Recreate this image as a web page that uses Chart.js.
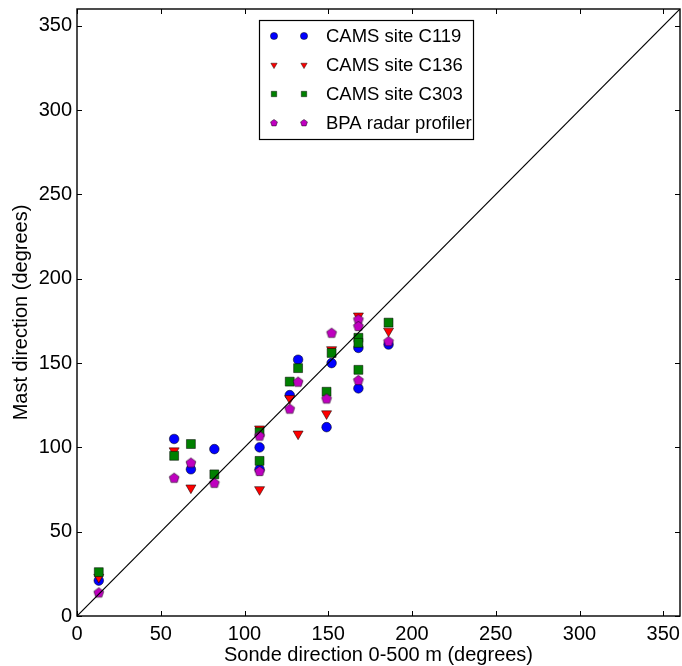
<!DOCTYPE html>
<html>
<head>
<meta charset="utf-8">
<script src="https://cdn.jsdelivr.net/npm/chart.js@4.4.1/dist/chart.umd.min.js"></script>
<style>
  html, body { margin: 0; padding: 0; background: #fff; overflow: hidden; }
  #wrap { width: 682px; height: 666px; }
  canvas { display: block; }
</style>
</head>
<body>
<div id="wrap"><canvas id="myChart" width="682" height="666"></canvas></div>
<script>
// (degrees)
const c119X = [13, 58, 68, 82, 109, 109, 127, 132, 149, 152, 168, 168, 186];
const c119Y = [21, 105, 87, 99, 100, 87, 131, 152, 112, 150, 159, 135, 161];
const c136X = [13, 58, 68, 109, 109, 127, 132, 149, 152, 168, 186];
const c136Y = [23, 98, 76, 111, 75, 129, 108, 120, 158, 178, 169];
const c303X = [13, 58, 68, 82, 109, 109, 127, 132, 149, 152, 168, 168, 168, 186];
const c303Y = [26, 95, 102, 84, 109, 92, 139, 147, 133, 156, 165, 162, 146, 174];
const bpaX = [13, 58, 68, 82, 109, 109, 127, 132, 149, 152, 168, 168, 168, 186];
const bpaY = [14, 82, 91, 79, 107, 86, 123, 139, 129, 168, 176, 172, 140, 163];
const oneToOneX = [0, 360];
const oneToOneY = [0, 360];
const tickValues = [0, 50, 100, 150, 200, 250, 300, 350];

const labels = ['CAMS site C119', 'CAMS site C136', 'CAMS site C303', 'BPA radar profiler'];
const colors = ['#0000ff', '#ff0000', '#008000', '#bf00bf'];
const edge = 'rgba(0,0,0,0.65)';
const font = '"Liberation Sans", Arial, sans-serif';

const pts = (xs, ys) => xs.map((x, i) => ({ x: x, y: ys[i] }));

function pentagonPath(ctx, x, y, r) {
  ctx.beginPath();
  for (let i = 0; i < 5; i++) {
    const a = -Math.PI / 2 + i * 2 * Math.PI / 5;
    const px = x + r * Math.cos(a), py = y + r * Math.sin(a);
    if (i === 0) ctx.moveTo(px, py); else ctx.lineTo(px, py);
  }
  ctx.closePath();
}

function pentagonImage(r) {
  const c = document.createElement('canvas');
  const s = Math.ceil(r * 2 + 3);
  c.width = s; c.height = s;
  const g = c.getContext('2d');
  pentagonPath(g, s / 2, s / 2 + 0.5, r);
  g.fillStyle = colors[3];
  g.fill();
  g.lineWidth = 0.8;
  g.strokeStyle = edge;
  g.stroke();
  return c;
}

// small marker used in the legend box
function marker(ctx, k, x, y, r) {
  ctx.beginPath();
  if (k === 0) {
    ctx.arc(x, y, r, 0, Math.PI * 2);
  } else if (k === 1) {
    ctx.moveTo(x - r * 0.87, y - r * 0.5);
    ctx.lineTo(x + r * 0.87, y - r * 0.5);
    ctx.lineTo(x, y + r);
    ctx.closePath();
  } else if (k === 2) {
    ctx.rect(x - r * 0.75, y - r * 0.75, r * 1.5, r * 1.5);
  } else {
    pentagonPath(ctx, x, y, r);
  }
  ctx.fillStyle = colors[k];
  ctx.fill();
  ctx.lineWidth = 0.7;
  ctx.strokeStyle = edge;
  ctx.stroke();
}

const framePlugin = {
  id: 'frame',
  afterDraw(chart) {
    const ctx = chart.ctx;
    const a = chart.chartArea;
    const xs = chart.scales.x, ys = chart.scales.y;
    ctx.save();
    ctx.strokeStyle = '#000';
    ctx.lineWidth = 1;
    ctx.beginPath();
    tickValues.forEach(v => {
      const px = Math.round(xs.getPixelForValue(v)) + 0.5;
      ctx.moveTo(px, a.bottom); ctx.lineTo(px, a.bottom - 5);
      ctx.moveTo(px, a.top); ctx.lineTo(px, a.top + 5);
      const py = Math.round(ys.getPixelForValue(v)) + 0.5;
      ctx.moveTo(a.left, py); ctx.lineTo(a.left + 5, py);
      ctx.moveTo(a.right, py); ctx.lineTo(a.right - 5, py);
    });
    ctx.stroke();
    ctx.lineWidth = 1.4;
    ctx.strokeRect(a.left, a.top, a.right - a.left, a.bottom - a.top);

    // legend box
    const bx = 259, by = 20, bw = 214, bh = 119;
    ctx.fillStyle = '#fff';
    ctx.fillRect(bx, by, bw, bh);
    ctx.lineWidth = 1.2;
    ctx.strokeRect(bx + 0.5, by + 0.5, bw, bh);
    ctx.font = '18.5px ' + font;
    ctx.textBaseline = 'middle';
    labels.forEach((t, k) => {
      const y = 36 + k * 29;
      marker(ctx, k, 274, y, 3.6);
      marker(ctx, k, 304, y, 3.6);
      ctx.fillStyle = '#000';
      ctx.fillText(t, 326, y + 1);
    });
    ctx.restore();
  }
};

const ctx = document.getElementById('myChart');

const data = {
  datasets: [
    {
      label: '1:1',
      data: pts(oneToOneX, oneToOneY),
      showLine: true,
      borderColor: '#000',
      borderWidth: 1.2,
      pointRadius: 0,
      order: -1
    },
    {
      label: labels[0],
      data: pts(c119X, c119Y),
      pointStyle: 'circle',
      pointRadius: 4.8,
      backgroundColor: colors[0],
      borderColor: edge,
      borderWidth: 0.8,
      order: 3
    },
    {
      label: labels[1],
      data: pts(c136X, c136Y),
      pointStyle: 'triangle',
      rotation: 180,
      pointRadius: 5.8,
      backgroundColor: colors[1],
      borderColor: edge,
      borderWidth: 0.8,
      order: 2
    },
    {
      label: labels[2],
      data: pts(c303X, c303Y),
      pointStyle: 'rect',
      pointRadius: 6.3,
      backgroundColor: colors[2],
      borderColor: edge,
      borderWidth: 0.8,
      order: 1
    },
    {
      label: labels[3],
      data: pts(bpaX, bpaY),
      pointStyle: pentagonImage(5.2),
      backgroundColor: colors[3],
      order: 0
    }
  ]
};

const titleFont = { family: font, size: 20, lineHeight: 1.1 };

const config = {
  type: 'scatter',
  data: data,
  options: {
    responsive: false,
    animation: false,
    layout: { autoPadding: false, padding: { left: 0, right: 2, top: 9, bottom: 0 } },
    plugins: {
      legend: { display: false },
      tooltip: { enabled: false }
    },
    scales: {
      x: {
        type: 'linear',
        min: 0,
        max: 360,
        grid: { display: false, drawTicks: false },
        border: { display: false },
        ticks: {
          stepSize: 50,
          includeBounds: false,
          color: '#000',
          font: { family: font, size: 20, lineHeight: 1.8 },
          padding: 0,
          maxRotation: 0
        },
        title: {
          display: true,
          text: 'Sonde direction 0-500 m (degrees)',
          color: '#000',
          font: titleFont,
          padding: { top: 0, bottom: 0 }
        },
        afterFit(s) {
          s.height = 50;
          s.paddingLeft = 0;
          s.paddingRight = 0;
        }
      },
      y: {
        type: 'linear',
        min: 0,
        max: 360,
        grid: { display: false, drawTicks: false },
        border: { display: false },
        ticks: {
          stepSize: 50,
          includeBounds: false,
          color: '#000',
          font: { family: font, size: 20 },
          padding: 5
        },
        title: {
          display: true,
          text: 'Mast direction (degrees)',
          color: '#000',
          font: { family: font, size: 20 },
          padding: { top: 9, bottom: 0 }
        },
        afterFit(s) {
          s.width = 77;
          s.paddingTop = 0;
          s.paddingBottom = 0;
        }
      }
    }
  },
  plugins: [framePlugin]
};

new Chart(ctx, config);
</script>
</body>
</html>
